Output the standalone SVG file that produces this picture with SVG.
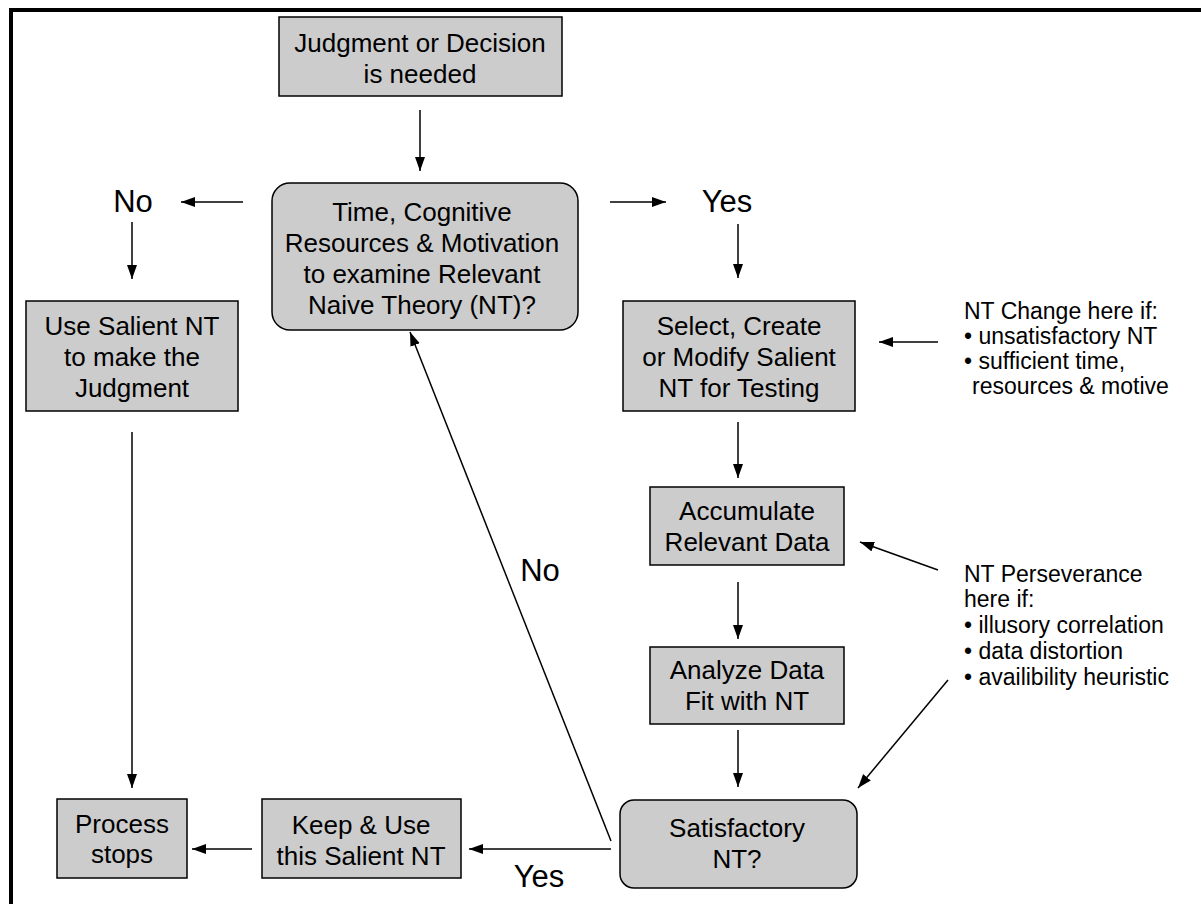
<svg xmlns="http://www.w3.org/2000/svg" width="1201" height="904" viewBox="0 0 1201 904">
<defs>
<marker id="ah" markerWidth="14" markerHeight="10" refX="14" refY="5" orient="auto" markerUnits="userSpaceOnUse"><path d="M0,0 L14,5 L0,10 z" fill="#000"/></marker>
<style>
.box{fill:#cccccc;stroke:#000;stroke-width:1.5}
.t{font-family:"Liberation Sans",Arial,sans-serif;font-size:26px;fill:#000;text-anchor:middle}
.lbl{font-family:"Liberation Sans",Arial,sans-serif;font-size:31px;fill:#000;text-anchor:middle}
.side{font-family:"Liberation Sans",Arial,sans-serif;font-size:23px;fill:#000}
.c{stroke:#000;stroke-width:1.5;fill:none;marker-end:url(#ah)}
</style>
</defs>
<rect width="1201" height="904" fill="#fff"/>
<path d="M11,904 V10 H1201" fill="none" stroke="#000" stroke-width="4"/>

<g id="start"><rect class="box" x="279" y="17" width="283" height="79"/>
<text class="t"><tspan x="420" y="52">Judgment or Decision</tspan><tspan x="420" y="83">is needed</tspan></text></g>

<g id="question"><rect class="box" x="272" y="183" width="306" height="147" rx="18"/>
<text class="t"><tspan x="422" y="221">Time, Cognitive</tspan><tspan x="422" y="252">Resources &amp; Motivation</tspan><tspan x="422" y="283">to examine Relevant</tspan><tspan x="422" y="314">Naive Theory (NT)?</tspan></text></g>

<g id="no1"><text class="lbl" x="133" y="212">No</text></g>
<g id="yes1"><text class="lbl" x="727" y="212">Yes</text></g>

<g id="usesalient"><rect class="box" x="26" y="301" width="212" height="110"/>
<text class="t"><tspan x="132" y="335">Use Salient NT</tspan><tspan x="132" y="366">to make the</tspan><tspan x="132" y="397">Judgment</tspan></text></g>

<g id="select"><rect class="box" x="623" y="301" width="232" height="110"/>
<text class="t"><tspan x="739" y="335">Select, Create</tspan><tspan x="739" y="366">or Modify Salient</tspan><tspan x="739" y="397">NT for Testing</tspan></text></g>

<g id="ntchange"><text class="side"><tspan x="964" y="319">NT Change here if:</tspan><tspan x="964" y="344">• unsatisfactory NT</tspan><tspan x="964" y="369">• sufficient time,</tspan><tspan x="972" y="394">resources &amp; motive</tspan></text></g>

<g id="accumulate"><rect class="box" x="650" y="487" width="194" height="78"/>
<text class="t"><tspan x="747" y="520">Accumulate</tspan><tspan x="747" y="551">Relevant Data</tspan></text></g>

<g id="perseverance"><text class="side"><tspan x="964" y="582">NT Perseverance</tspan><tspan x="964" y="607">here if:</tspan><tspan x="964" y="633">• illusory correlation</tspan><tspan x="964" y="659">• data distortion</tspan><tspan x="964" y="685">• availibility heuristic</tspan></text></g>

<g id="analyze"><rect class="box" x="650" y="647" width="194" height="77"/>
<text class="t"><tspan x="747" y="679">Analyze Data</tspan><tspan x="747" y="710">Fit with NT</tspan></text></g>

<g id="satisfactory"><rect class="box" x="620" y="800" width="237" height="88" rx="14"/>
<text class="t"><tspan x="737" y="837">Satisfactory</tspan><tspan x="737" y="868">NT?</tspan></text></g>

<g id="keep"><rect class="box" x="262" y="799" width="199" height="79"/>
<text class="t"><tspan x="361" y="834">Keep &amp; Use</tspan><tspan x="361" y="865">this Salient NT</tspan></text></g>

<g id="process"><rect class="box" x="57" y="799" width="130" height="79"/>
<text class="t"><tspan x="122" y="833">Process</tspan><tspan x="122" y="863">stops</tspan></text></g>

<g id="no2"><text class="lbl" x="540" y="581">No</text></g>
<g id="yes2"><text class="lbl" x="539" y="887">Yes</text></g>

<g id="connectors">
<line class="c" x1="420" y1="110" x2="420" y2="171"/>
<line class="c" x1="243" y1="202" x2="181" y2="202"/>
<line class="c" x1="610" y1="202" x2="666" y2="202"/>
<line class="c" x1="132" y1="222" x2="132" y2="279"/>
<line class="c" x1="738" y1="224" x2="738" y2="278"/>
<line class="c" x1="938" y1="342" x2="879" y2="342"/>
<line class="c" x1="738" y1="422" x2="738" y2="478"/>
<line class="c" x1="938" y1="570" x2="860" y2="542"/>
<line class="c" x1="738" y1="582" x2="738" y2="639"/>
<line class="c" x1="738" y1="730" x2="738" y2="787"/>
<line class="c" x1="948" y1="680" x2="858" y2="788"/>
<line class="c" x1="132" y1="432" x2="132" y2="788"/>
<line class="c" x1="611" y1="849" x2="469" y2="849"/>
<line class="c" x1="252" y1="849" x2="192" y2="849"/>
<line class="c" x1="611" y1="841" x2="410" y2="332"/>
</g>
</svg>
